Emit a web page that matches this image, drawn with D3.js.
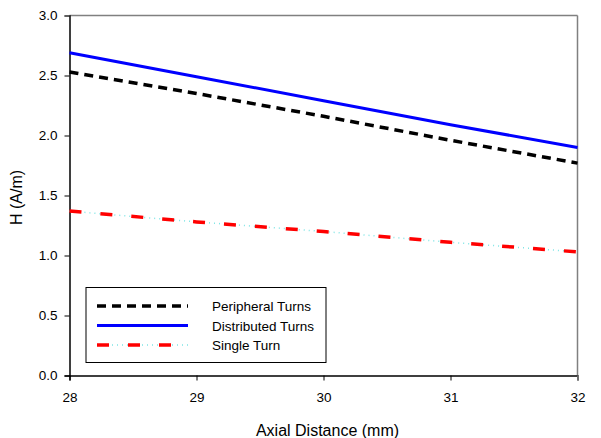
<!DOCTYPE html>
<html>
<head>
<meta charset="utf-8">
<script src="https://cdn.jsdelivr.net/npm/d3@7"></script>
<style>
body { margin: 0; background: #fff; }
text { font-family: "Liberation Sans", Arial, sans-serif; fill: #000; }
</style>
</head>
<body>
<svg width="601" height="438"></svg>
<script>
let distance = [28, 29, 30, 31, 32];
let peripheral = [2.53, 2.35, 2.16, 1.96, 1.77];
let distributed = [2.69, 2.49, 2.29, 2.09, 1.90];
let single = [1.37, 1.28, 1.20, 1.11, 1.03];
let xTicks = [28, 29, 30, 31, 32];
let yTicks = [0, 0.5, 1.0, 1.5, 2.0, 2.5, 3.0];

let svg = d3.select("svg");
let plotLeft = 69.5, plotRight = 577.5, plotTop = 15.5, plotBottom = 375.5;

let x = d3.scaleLinear().domain([28, 32]).range([plotLeft, plotRight]);
let y = d3.scaleLinear().domain([0, 3]).range([plotBottom, plotTop]);

// frame: gray top/right
svg.append("line").attr("x1", plotLeft).attr("x2", plotRight).attr("y1", plotTop).attr("y2", plotTop)
    .attr("stroke", "#808080").attr("stroke-width", 1.5);
svg.append("line").attr("x1", plotRight).attr("x2", plotRight).attr("y1", plotTop).attr("y2", plotBottom)
    .attr("stroke", "#808080").attr("stroke-width", 1.5);

let xAxis = svg.append("g").attr("transform", `translate(0,${plotBottom})`)
    .call(d3.axisBottom(x).tickValues(xTicks).tickFormat(d3.format("d")).tickSize(5).tickPadding(12));
let yAxis = svg.append("g").attr("transform", `translate(${plotLeft},0)`)
    .call(d3.axisLeft(y).tickValues(yTicks).tickFormat(d3.format(".1f")).tickSize(5).tickPadding(7));
[xAxis, yAxis].forEach(g => {
    g.select(".domain").attr("stroke", "#000").attr("stroke-width", 1.5);
    g.selectAll(".tick line").attr("stroke", "#000");
    g.selectAll(".tick text").attr("font-size", 13.5).attr("font-family", "Liberation Sans, Arial, sans-serif");
});
// last x tick in gray (right border)
xAxis.selectAll(".tick line").filter(d => d === 32).attr("stroke", "#808080").attr("stroke-width", 1.5);
yAxis.selectAll(".tick line").filter(d => d === 3).attr("stroke", "#808080");

let line = d3.line().x((d, i) => x(distance[i])).y(d => y(d));

function addSeries(vals, styles){
    styles.forEach(s => {
        svg.append("path").datum(vals)
            .attr("d", line)
            .attr("fill", "none")
            .attr("stroke", s.color)
            .attr("stroke-width", s.width)
            .attr("stroke-dasharray", s.dash);
    });
}

addSeries(single, [
    {color: "#7fe5e5", width: 1.5, dash: "1,4"},
    {color: "#ff0000", width: 3.5, dash: "12,19"}
]);
addSeries(peripheral, [{color: "#000", width: 3.5, dash: "9,6"}]);
addSeries(distributed, [{color: "#0000ff", width: 3, dash: null}]);

// legend
let legend = svg.append("g");
legend.append("rect").attr("x", 86).attr("y", 287.5).attr("width", 240).attr("height", 75)
    .attr("fill", "#fff").attr("stroke", "#000").attr("stroke-width", 1);
let legendItems = [
    {name: "Peripheral Turns", styles: [{color: "#000", width: 3.5, dash: "9,6"}]},
    {name: "Distributed Turns", styles: [{color: "#0000ff", width: 3, dash: null}]},
    {name: "Single Turn", styles: [{color: "#7fe5e5", width: 1.5, dash: "1,4"}, {color: "#ff0000", width: 3.5, dash: "12,19"}]}
];
legendItems.forEach((item, i) => {
    let ly = 306 + i * 19.5;
    item.styles.forEach(s => {
        legend.append("line").attr("x1", 97).attr("x2", 188).attr("y1", ly).attr("y2", ly)
            .attr("stroke", s.color).attr("stroke-width", s.width).attr("stroke-dasharray", s.dash);
    });
    legend.append("text").attr("x", 212).attr("y", ly + 5).attr("font-size", 13.5).text(item.name);
});

// axis titles
svg.append("text").attr("x", (plotLeft + plotRight) / 2 + 4).attr("y", 436).attr("text-anchor", "middle")
    .attr("font-size", 16).text("Axial Distance (mm)");
svg.append("text").attr("transform", `translate(22,${(plotTop + plotBottom) / 2 + 2}) rotate(-90)`)
    .attr("text-anchor", "middle").attr("font-size", 16).text("H (A/m)");
</script>
</body>
</html>
